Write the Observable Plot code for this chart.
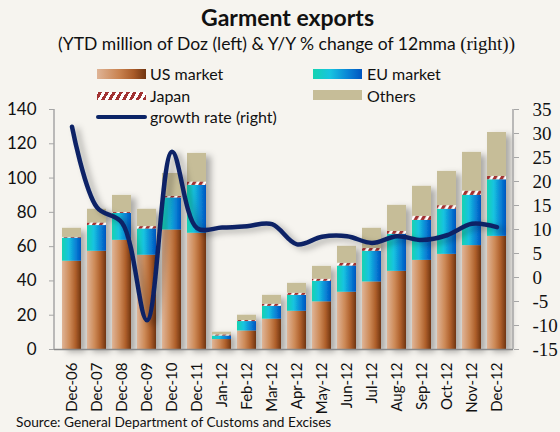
<!DOCTYPE html>
<html>
<head>
<meta charset="utf-8">
<script src="https://cdn.jsdelivr.net/npm/d3@7"></script>
<script src="https://cdn.jsdelivr.net/npm/@observablehq/plot@0.6"></script>
<style>
  html, body { margin: 0; padding: 0; background: #f6f4ef; }
  #wrap { position: relative; width: 560px; height: 432px; overflow: hidden; background: #f6f4ef; font-family: Lato, "Noto Sans", sans-serif; color: #111; }
  #chart { position: absolute; left: 0; top: 0; }
  .abs { position: absolute; white-space: nowrap; }
  .title { left: 0; width: 575px; text-align: center; top: 3px; font-size: 23px; font-weight: 700; line-height: 28px; }
  .subtitle { left: 0; width: 573px; text-align: center; top: 33px; font-size: 17.5px; line-height: 22px; }
  .serif { font-family: "Liberation Serif", serif; font-size: 19px; }
  .lg-text { font-size: 16px; line-height: 20px; }
  .sw { position: absolute; }
  .source { left: 16px; top: 413px; font-size: 13.7px; line-height: 18px; }
</style>
</head>
<body>
<div id="wrap">
  <div id="chart"></div>
  <div class="abs title">Garment exports</div>
  <div class="abs subtitle">(YTD million of Doz (left) &amp; Y/Y % change of 12mma <span class="serif">(right))</span></div>

  <div class="sw" style="left:97px;top:69px;width:49px;height:10px;background:linear-gradient(90deg,#dfb496 0%,#c98350 45%,#a85a28 75%,#6f3410 100%);"></div>
  <div class="abs lg-text" style="left:150px;top:64px;">US market</div>
  <div class="sw" style="left:313px;top:69px;width:49px;height:10px;background:linear-gradient(90deg,#15d3b0 0%,#17c4e0 35%,#0a86d6 70%,#0055c0 100%);"></div>
  <div class="abs lg-text" style="left:367px;top:64px;">EU market</div>
  <div class="sw" style="left:97px;top:92px;width:49px;height:8px;background:repeating-linear-gradient(-60deg,#a23232 0px,#a23232 3px,#ffffff 3px,#ffffff 6px);"></div>
  <div class="abs lg-text" style="left:150px;top:86px;">Japan</div>
  <div class="sw" style="left:313px;top:90px;width:49px;height:10px;background:#c6bd98;"></div>
  <div class="abs lg-text" style="left:367px;top:86px;">Others</div>
  <div class="sw" style="left:96px;top:115px;width:51px;height:4px;background:#0b2466;border-radius:2px;"></div>
  <div class="abs lg-text" style="left:150px;top:107px;">growth rate (right)</div>

  <div class="abs source">Source: General Department of Customs and Excises</div>
</div>
<script>
const months = ["Dec-06","Dec-07","Dec-08","Dec-09","Dec-10","Dec-11","Jan-12","Feb-12","Mar-12","Apr-12","May-12","Jun-12","Jul-12","Aug-12","Sep-12","Oct-12","Nov-12","Dec-12"];
const usMarket = [51.5, 57.3, 63.7, 55.0, 69.7, 67.8, 5.8, 10.8, 17.7, 22.3, 27.8, 33.4, 39.4, 45.6, 52.0, 55.5, 60.6, 66.0];
const euMarket = [13.5, 15.0, 15.7, 15.3, 18.7, 27.9, 2.1, 5.5, 7.5, 9.3, 12.0, 15.3, 17.9, 21.6, 23.3, 26.3, 29.3, 33.0];
const japan    = [0.4, 1.5, 0.6, 1.4, 0.9, 2.0, 0.6, 0.6, 1.2, 1.2, 1.2, 1.6, 1.6, 1.7, 2.4, 2.1, 2.5, 2.0];
const others   = [5.3, 8.0, 9.9, 10.1, 13.4, 16.7, 1.6, 3.1, 5.2, 5.8, 7.5, 9.9, 11.8, 15.2, 17.5, 20.0, 22.6, 25.6];
const growth   = [31.4, 14.6, 11.4, -8.9, 26.2, 10.3, 10.4, 10.7, 11.1, 6.9, 8.5, 8.6, 7.2, 8.6, 7.8, 8.8, 11.2, 10.5];
const seriesNames = ["US market", "EU market", "Japan", "Others"];
const leftTicks = [0, 20, 40, 60, 80, 100, 120, 140];
const rightTicks = [-15, -10, -5, 0, 5, 10, 15, 20, 25, 30, 35];

const seriesValues = [usMarket, euMarket, japan, others];
const rows = months.flatMap((m, i) => seriesNames.map((s, k) => ({month: m, series: s, value: seriesValues[k][i]})));
const lineRows = months.map((m, i) => ({month: m, growth: growth[i]}));

// right axis (-15..35) mapped onto the left axis (0..140)
const leftMax = leftTicks[leftTicks.length - 1];
const rMin = rightTicks[0], rMax = rightTicks[rightTicks.length - 1];
const toLeft = r => (r - rMin) * leftMax / (rMax - rMin);
const toRight = l => l * (rMax - rMin) / leftMax + rMin;

const plot = Plot.plot({
  width: 560,
  height: 432,
  marginTop: 109,
  marginBottom: 83,
  marginLeft: 54,
  marginRight: 47,
  style: {background: "transparent", fontFamily: "Lato, 'Noto Sans', sans-serif", color: "#111", overflow: "visible"},
  x: {domain: months, paddingInner: 0.25, paddingOuter: 0.18, axis: null, label: null},
  y: {domain: [0, leftMax], axis: null, label: null},
  color: {domain: seriesNames, range: ["url(#gUS)", "url(#gEU)", "url(#pJP)", "#c6bd98"]},
  marks: [
    Plot.barY(rows, {x: "month", y: "value", fill: "series"}),
    Plot.ruleY([0], {stroke: "#8a8a8a", strokeWidth: 1.5}),
    Plot.line(lineRows, {x: "month", y: d => toLeft(d.growth), stroke: "#0b2466", strokeWidth: 4.5, curve: "catmull-rom", strokeLinecap: "round"}),
    Plot.axisX({label: null, tickSize: 0, tickRotate: -90, tickPadding: 13, fontSize: 15, fill: "#111"}),
    Plot.axisY(leftTicks, {label: null, anchor: "left", tickSize: 5, tickPadding: 13, fontSize: 17, stroke: "#a6a6a6", fill: "#111"}),
    Plot.axisY(rightTicks.map(toLeft), {label: null, anchor: "right", tickSize: 5, tickPadding: 14, fontSize: 19, fontFamily: "'Liberation Serif', serif", stroke: "#a6a6a6", fill: "#111", tickFormat: d => String(Math.round(toRight(d)))})
  ]
});

// defs: gradients, pattern, shadow
const svg = d3.select(plot);
const defs = svg.insert("defs", ":first-child");
const gUS = defs.append("linearGradient").attr("id", "gUS").attr("x1", 0).attr("x2", 1).attr("y1", 0).attr("y2", 0);
[[0, "#dfb496"], [0.4, "#cd8a58"], [0.72, "#ad5e2a"], [1, "#6f3410"]].forEach(([o, c]) => gUS.append("stop").attr("offset", o).attr("stop-color", c));
const gEU = defs.append("linearGradient").attr("id", "gEU").attr("x1", 0).attr("x2", 1).attr("y1", 0).attr("y2", 0);
[[0, "#15d3b0"], [0.35, "#17c4e0"], [0.7, "#0a86d6"], [1, "#0055c0"]].forEach(([o, c]) => gEU.append("stop").attr("offset", o).attr("stop-color", c));
const pJP = defs.append("pattern").attr("id", "pJP").attr("patternUnits", "userSpaceOnUse").attr("width", 6).attr("height", 6).attr("patternTransform", "rotate(30)");
pJP.append("rect").attr("width", 6).attr("height", 6).attr("fill", "#ffffff");
pJP.append("rect").attr("width", 3.2).attr("height", 6).attr("fill", "#a23232");
const sh = defs.append("filter").attr("id", "shadow").attr("x", "-20%").attr("y", "-20%").attr("width", "160%").attr("height", "160%");
sh.append("feDropShadow").attr("dx", 5).attr("dy", 3).attr("stdDeviation", 3).attr("flood-color", "#000").attr("flood-opacity", 0.3);

svg.selectAll("g[aria-label='bar']").attr("filter", "url(#shadow)");
svg.selectAll("g[aria-label='line']").attr("filter", "url(#shadow)");

// vertical axis lines at the ends of the x range
const xr = plot.scale("x").range, yr = plot.scale("y").range;
const axisLines = svg.append("g").attr("stroke", "#a6a6a6").attr("stroke-width", 1.5);
xr.forEach(x => axisLines.append("line").attr("x1", x).attr("x2", x).attr("y1", yr[0]).attr("y2", yr[1]));

document.getElementById("chart").appendChild(plot);
</script>
</body>
</html>
